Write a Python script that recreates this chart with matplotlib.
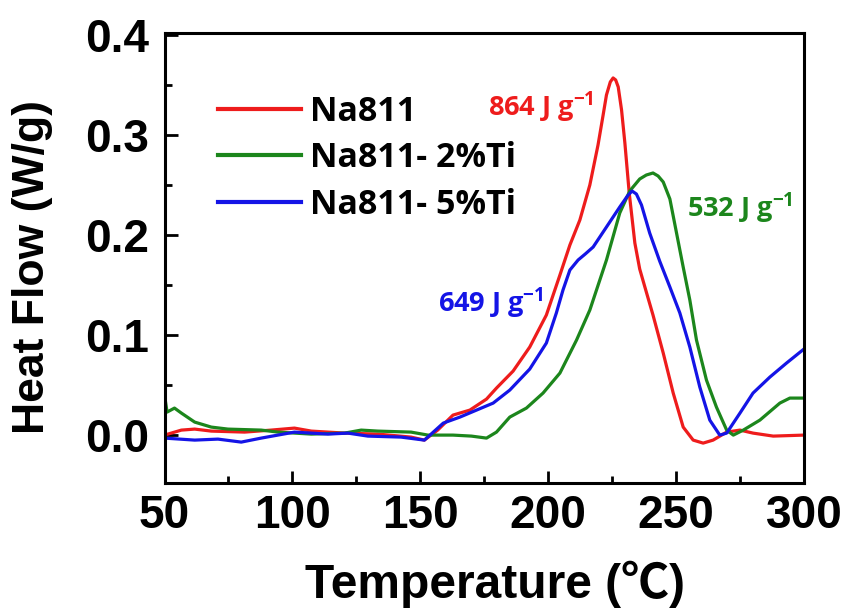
import matplotlib
matplotlib.use("Agg")
import matplotlib.pyplot as plt
from matplotlib.ticker import MultipleLocator

plt.rcParams['mathtext.fontset'] = 'custom'
plt.rcParams['mathtext.rm'] = 'Open Sans'
plt.rcParams['mathtext.bf'] = 'Open Sans:bold'

# ---- data ----
t_na811 = [50, 56.6, 61.8, 68.3, 81.3, 91.7, 100.8, 107.4, 120.4, 133.4, 146.4, 151.6, 156.8,
           162.8, 169.4, 175.9, 179.8, 186.3, 192.8, 199.3, 204.6, 208.5, 212.4, 216.3, 219.5,
           221.5, 222.8, 224.3, 225.4, 226.4, 227.4, 228.7, 230, 231.7, 233.9, 235.8, 238.5,
           241, 245, 248.9, 252.8, 256.7, 260.6, 264.5, 269.8, 275, 280.1, 288, 300]
hf_na811 = [0.0, 0.005, 0.006, 0.004, 0.003, 0.005, 0.007, 0.004, 0.002, 0.001, -0.002, -0.005,
            0.005, 0.02, 0.025, 0.036, 0.047, 0.064, 0.088, 0.12, 0.16, 0.19, 0.215, 0.25, 0.29,
            0.32, 0.34, 0.353, 0.357, 0.355, 0.348, 0.325, 0.292, 0.242, 0.192, 0.166, 0.142,
            0.12, 0.082, 0.042, 0.008, -0.005, -0.008, -0.005, 0.003, 0.005, 0.002, -0.001, 0.0]

t_ti2 = [50, 51, 53.9, 56.6, 61.8, 68.3, 74.8, 87.8, 94.4, 107.4, 120.4, 126.9, 133.4, 146.4,
         153, 162.8, 170, 175.9, 179.8, 185, 191.5, 198, 204.6, 211.1, 216.3, 222.8, 228,
         231.9, 235.8, 238.4, 241, 243, 245, 247.6, 250.2, 252.8, 255.4, 258, 261.9, 265.8,
         269.8, 272.4, 276.3, 282.8, 290.6, 294.5, 300]
hf_ti2 = [0.04, 0.023, 0.027, 0.022, 0.013, 0.008, 0.006, 0.005, 0.003, 0.001, 0.002, 0.005,
          0.004, 0.003, 0.0, 0.0, -0.001, -0.003, 0.003, 0.018, 0.027, 0.042, 0.062, 0.095,
          0.125, 0.175, 0.222, 0.244, 0.256, 0.26, 0.262, 0.259, 0.253, 0.236, 0.202, 0.168,
          0.135, 0.095, 0.055, 0.028, 0.005, 0.0, 0.005, 0.015, 0.032, 0.037, 0.037]

t_ti5 = [50, 61.8, 70.9, 80, 87.8, 100.8, 113.9, 121.7, 129.5, 142.5, 151.6, 153.8, 159,
         165.5, 172, 178.5, 185, 192.8, 199.3, 203.2, 205.8, 208.5, 211.7, 214.5, 217.6, 222.8,
         228, 231, 232.8, 234.5, 236.5, 239.7, 243.6, 247.6, 251.5, 255.4, 259.3, 263.2, 267.1,
         269.8, 275, 280.1, 286.7, 293.2, 300]
hf_ti5 = [-0.003, -0.005, -0.004, -0.007, -0.003, 0.003, 0.001, 0.002, -0.001, -0.002, -0.005,
          0.0, 0.012, 0.018, 0.025, 0.032, 0.045, 0.066, 0.092, 0.122, 0.145, 0.165, 0.175,
          0.181, 0.188, 0.208, 0.228, 0.239, 0.244, 0.241, 0.23, 0.202, 0.174, 0.148, 0.122,
          0.088, 0.048, 0.015, 0.0, 0.002, 0.022, 0.042, 0.058, 0.072, 0.086]

labels = ["Na811", "Na811- 2%Ti", "Na811- 5%Ti"]
colors = ["#ee1c1c", "#1c861c", "#1414e6"]
enthalpy_text = ["864 J g$^{\\mathbf{-1}}$", "532 J g$^{\\mathbf{-1}}$", "649 J g$^{\\mathbf{-1}}$"]
enthalpy_pos = [(197.3, 0.328), (275.0, 0.227), (177.7, 0.132)]

x_ticks = [50, 100, 150, 200, 250, 300]
y_ticks = [0.0, 0.1, 0.2, 0.3, 0.4]

# ---- figure ----
fig = plt.figure(figsize=(8.48, 6.10), dpi=100)
ax = fig.add_axes([0.194, 0.208, 0.754, 0.738])

series = [(t_na811, hf_na811), (t_ti2, hf_ti2), (t_ti5, hf_ti5)]
for (t, v), lab, c in zip(series, labels, colors):
    ax.plot(t, v, color=c, lw=2.3, label=lab, solid_joinstyle='round')

for txt, (x, y), c in zip(enthalpy_text, enthalpy_pos, colors):
    ax.text(x, y, txt, color=c, fontsize=19.5, fontweight='bold', family='Open Sans',
            ha='center', va='center')

ax.set_xlim(50, 300)
ax.set_ylim(-0.048, 0.402)
ax.set_xticks(x_ticks)
ax.set_yticks(y_ticks)
ax.xaxis.set_minor_locator(MultipleLocator(25))
ax.yaxis.set_minor_locator(MultipleLocator(0.05))
ax.set_xticklabels([str(v) for v in x_ticks])
ax.set_yticklabels([f"{v:.1f}" for v in y_ticks])

for s in ax.spines.values():
    s.set_linewidth(2.2)
ax.tick_params(which='both', direction='in', top=False, right=False, width=2.0)
ax.tick_params(which='major', length=9)
ax.tick_params(which='minor', length=5)
ax.tick_params(axis='x', which='major', pad=8)
ax.tick_params(axis='y', which='major', pad=11)
for lab in ax.get_xticklabels() + ax.get_yticklabels():
    lab.set_fontfamily('Liberation Sans')
    lab.set_fontweight('bold')
    lab.set_fontsize(33)

ax.set_ylabel("Heat Flow (W/g)", fontsize=32, fontweight='bold', family='Liberation Sans')
ax.yaxis.set_label_coords(-0.174, 0.48)
ax.set_xlabel("Temperature (℃)", fontsize=34.5, fontweight='bold',
              family=['Liberation Sans', 'Noto Sans CJK SC'])
ax.xaxis.set_label_coords(0.517, -0.172)

leg = ax.legend(loc='upper left', bbox_to_anchor=(0.083, 0.862), frameon=False,
                prop={'family': 'Open Sans', 'weight': 'bold', 'size': 24.5},
                handlelength=2.45, handletextpad=0.27, labelspacing=0.36, borderpad=0,
                borderaxespad=0)
for h in leg.get_lines():
    h.set_linewidth(3)

fig.savefig("out.png", dpi=100)
